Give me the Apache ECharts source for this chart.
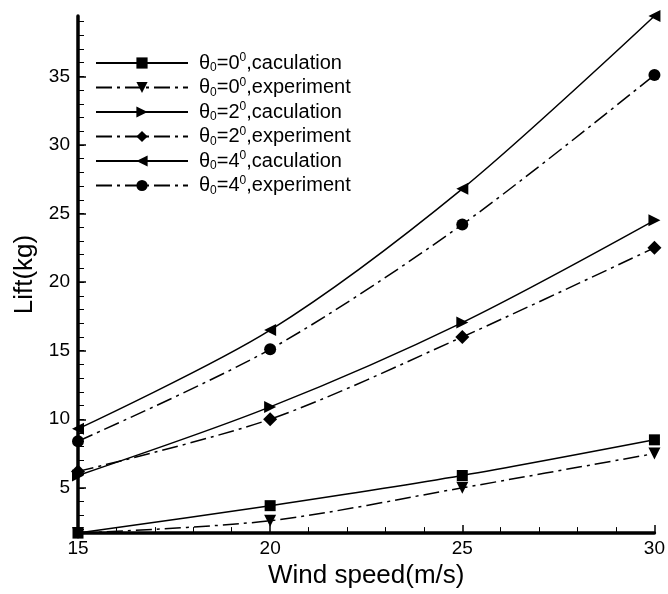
<!DOCTYPE html>
<html>
<head>
<meta charset="utf-8">
<script src="https://cdn.jsdelivr.net/npm/echarts@6/dist/echarts.min.js"></script>
<style>
  html, body { margin: 0; padding: 0; background: #fff; }
  #main { width: 668px; height: 594px; }
</style>
</head>
<body>
<div id="main"></div>
<script>
// data
var windSpeed = [15, 20, 25, 30];
var calc0 = [1.7, 3.7, 5.9, 8.5];
var exp0 = [1.7, 2.6, 5.0, 7.5];
var calc2 = [5.9, 10.9, 17.05, 24.5];
var exp2 = [6.2, 10.0, 16.0, 22.5];
var calc4 = [9.3, 16.5, 26.8, 39.4];
var exp4 = [8.4, 15.1, 24.2, 35.1];

var xTicks = [15, 20, 25, 30];
var yTicks = [5, 10, 15, 20, 25, 30, 35];
var yMinorTicks = [];
for (var v = 2; v <= 39; v++) yMinorTicks.push(v);

var yMin = 1.7, yMax = 39.4;
var font = 'Liberation Sans';
var dashDot = [16, 5, 3, 5];

function pairs(vals) {
  return windSpeed.map(function (x, i) { return [x, vals[i]]; });
}

// name, values, angle, marker, rotate, dashed
var seriesDefs = [
  ['θ0=0°,caculation', calc0, '0', 'rect', 0, false],
  ['θ0=0°,experiment', exp0, '0', 'triangle', 180, true],
  ['θ0=2°,caculation', calc2, '2', 'triangle', -90, false],
  ['θ0=2°,experiment', exp2, '2', 'diamond', 0, true],
  ['θ0=4°,caculation', calc4, '4', 'triangle', 90, false],
  ['θ0=4°,experiment', exp4, '4', 'circle', 0, true]
];

var chart = echarts.init(document.getElementById('main'));

var option = {
  backgroundColor: '#ffffff',
  animation: false,
  grid: { left: 78, right: 8, top: 16, bottom: 53 },
  legend: {
    orient: 'vertical',
    left: 90,
    top: 47,
    itemWidth: 92,
    itemHeight: 14,
    itemGap: 2.5,
    inactiveColor: '#000',
    data: seriesDefs.map(function (d) { return d[0]; }),
    formatter: function (name) {
      var d = seriesDefs.filter(function (s) { return s[0] === name; })[0];
      var kind = name.split(',')[1];
      return '{t|θ}{sub|0}{t|=' + d[2] + '}{sup|0}{t|,' + kind + '}';
    },
    textStyle: {
      padding: [0, 0, 0, 6],
      rich: {
        t: { fontFamily: font, fontSize: 20, color: '#000', lineHeight: 22 },
        sub: { fontFamily: font, fontSize: 12, color: '#000', verticalAlign: 'bottom', lineHeight: 22, padding: [9, 0, 0, 0] },
        sup: { fontFamily: font, fontSize: 12, color: '#000', verticalAlign: 'top', lineHeight: 22, padding: [0, 0, 9, 0] }
      }
    }
  },
  xAxis: {
    type: 'value',
    min: 15,
    max: 30,
    interval: 5,
    name: 'Wind speed(m/s)',
    nameLocation: 'middle',
    nameGap: 27,
    nameTextStyle: { fontFamily: font, fontSize: 26, color: '#000' },
    axisLine: { show: true, lineStyle: { color: '#000', width: 3.5 } },
    axisTick: { show: true, inside: true, length: 8, lineStyle: { color: '#000', width: 1.5 } },
    minorTick: { show: true, splitNumber: 5, length: 6, lineStyle: { color: '#000', width: 1 } },
    axisLabel: { fontFamily: font, fontSize: 19, color: '#000', margin: 6,
      customValues: xTicks },
    splitLine: { show: false }
  },
  yAxis: [{
    type: 'value',
    min: yMin,
    max: yMax,
    name: 'Lift(kg)',
    nameLocation: 'middle',
    nameGap: 34,
    nameTextStyle: { fontFamily: font, fontSize: 26, color: '#000' },
    axisLine: { show: true, lineStyle: { color: '#000', width: 3.5 } },
    axisTick: { show: true, inside: true, length: 8, lineStyle: { color: '#000', width: 1.5 },
      customValues: yTicks },
    axisLabel: { fontFamily: font, fontSize: 19, color: '#000', margin: 8,
      customValues: yTicks },
    splitLine: { show: false }
  }, {
    type: 'value',
    min: yMin,
    max: yMax,
    position: 'left',
    axisLine: { show: false },
    axisTick: { show: true, inside: true, length: 6, lineStyle: { color: '#000', width: 1 },
      customValues: yMinorTicks },
    axisLabel: { show: false },
    splitLine: { show: false }
  }],
  series: seriesDefs.map(function (d) {
    return {
      name: d[0],
      type: 'line',
      data: pairs(d[1]),
      smooth: 0.3,
      clip: false,
      symbol: d[3],
      symbolSize: d[3] === 'rect' ? 11 : (d[3] === 'diamond' ? 14 : 12),
      symbolRotate: d[4],
      itemStyle: { color: '#000' },
      lineStyle: { color: '#000', width: 1.5, type: d[5] ? dashDot : 'solid' }
    };
  })
};

chart.setOption(option);
</script>
</body>
</html>
